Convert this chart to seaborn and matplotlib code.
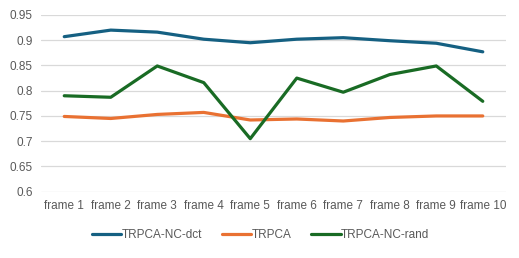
import pandas as pd
import seaborn as sns
import matplotlib.pyplot as plt

frames = ['frame 1', 'frame 2', 'frame 3', 'frame 4', 'frame 5',
          'frame 6', 'frame 7', 'frame 8', 'frame 9', 'frame 10']
nc_dct = [0.907, 0.920, 0.916, 0.902, 0.895, 0.902, 0.905, 0.899, 0.894, 0.877]
trpca = [0.749, 0.745, 0.753, 0.757, 0.742, 0.744, 0.740, 0.747, 0.750, 0.750]
nc_rand = [0.790, 0.787, 0.849, 0.816, 0.705, 0.825, 0.797, 0.832, 0.849, 0.779]
series = ['TRPCA-NC-dct', 'TRPCA', 'TRPCA-NC-rand']
colors = ['#156082', '#E97132', '#196B24']

data = pd.DataFrame({
    'frame': frames * 3,
    'value': nc_dct + trpca + nc_rand,
    'method': [s for s in series for _ in frames],
})

sns.set_style('white')
plt.rcParams['font.family'] = ['Liberation Sans', 'DejaVu Sans']

fig = plt.figure(figsize=(5.19, 2.58), dpi=100)
ax = fig.add_axes([0.079, 0.257, 0.896, 0.685])

sns.lineplot(data=data, x='frame', y='value', hue='method', hue_order=series,
             palette=colors, linewidth=2.3, sort=False, ax=ax)

ax.set_xlim(-0.5, len(frames) - 0.5)
ax.set_ylim(0.6, 0.95)
ax.set_yticks([0.6, 0.65, 0.7, 0.75, 0.8, 0.85, 0.9, 0.95])
ax.set_yticklabels(['0.6', '0.65', '0.7', '0.75', '0.8', '0.85', '0.9', '0.95'])
ax.grid(axis='y', color='#d9d9d9', linewidth=0.9)
ax.set_axisbelow(True)
for sp in ax.spines.values():
    sp.set_visible(False)
ax.tick_params(axis='both', length=0, colors='#595959', labelsize=8.5, pad=6)
ax.set_xlabel('')
ax.set_ylabel('')

handles, labels = ax.get_legend_handles_labels()
ax.get_legend().remove()
fig.legend(handles, labels, loc='center', bbox_to_anchor=(0.502, 0.089), ncol=3,
           frameon=False, fontsize=8.5, labelcolor='#595959', handlelength=2.5,
           handletextpad=0.0, columnspacing=1.7)

fig.savefig('out.png', dpi=100)
